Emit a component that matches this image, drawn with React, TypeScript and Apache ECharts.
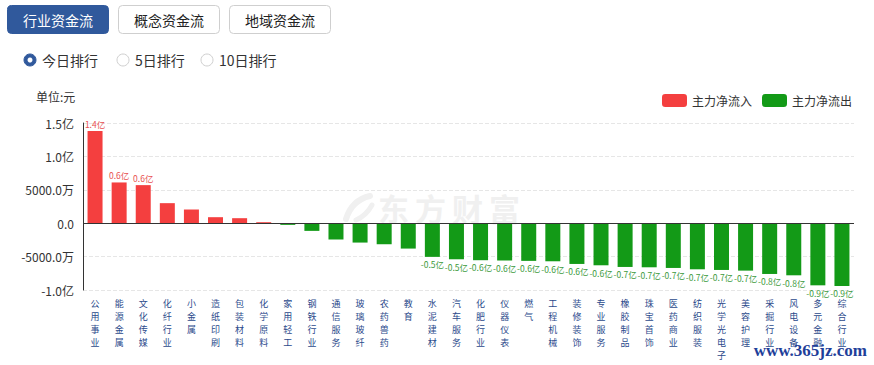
import React, { useEffect, useRef } from "react";
import * as echarts from "echarts";

const categories = [
  "公用事业", "能源金属", "文化传媒", "化纤行业", "小金属", "造纸印刷", "包装材料", "化学原料",
  "家用轻工", "钢铁行业", "通信服务", "玻璃玻纤", "农药兽药", "教育", "水泥建材", "汽车服务",
  "化肥行业", "仪器仪表", "燃气", "工程机械", "装修装饰", "专业服务", "橡胶制品", "珠宝首饰",
  "医药商业", "纺织服装", "光学光电子", "美容护理", "采掘行业", "风电设备", "多元金融", "综合行业",
];

// 主力净流入/流出, 单位: 亿元
const netFlow = [
  1.38, 0.61, 0.57, 0.30, 0.205, 0.09, 0.075, 0.015,
  -0.025, -0.115, -0.244, -0.29, -0.315, -0.38, -0.504, -0.54,
  -0.554, -0.56, -0.564, -0.57, -0.61, -0.63, -0.655, -0.66,
  -0.67, -0.69, -0.70, -0.71, -0.76, -0.78, -0.93, -0.94,
];

const tabs = ["行业资金流", "概念资金流", "地域资金流"];
const rankOptions = ["今日排行", "5日排行", "10日排行"];
const legendNames = ["主力净流入", "主力净流出"];

const FONT = "'Noto Sans CJK SC', 'Noto Sans', sans-serif";
const BLUE = "#30599c";
const RED = "#f43f3f";
const GREEN = "#139a17";

export default function App() {
  const ref = useRef<HTMLDivElement>(null);

  useEffect(() => {
    document.body.style.margin = "0";
    if (!ref.current) return;
    const chart = echarts.init(ref.current, null, { renderer: "svg" });

    const inflow = netFlow.map((v) => (v > 0 ? v : "-"));
    const outflow = netFlow.map((v) => (v < 0 ? v : "-"));

    const barLabel = (color: string, position: string) => ({
      show: true,
      position,
      distance: 3,
      fontSize: 8.5,
      fontFamily: FONT,
      color,
      formatter: (p: any) =>
        Math.abs(p.value) >= 0.45 ? (p.value as number).toFixed(1) + "亿" : "",
    });

    const tabX = [7, 118, 229];
    const radioX = [30, 123, 207];
    const graphics: any[] = [];
    tabs.forEach((t, i) => {
      const sel = i === 0;
      graphics.push({
        type: "rect",
        shape: { x: tabX[i] + 0.5, y: 5.5, width: 101, height: 28, r: 4 },
        style: { fill: sel ? BLUE : "#fff", stroke: sel ? BLUE : "#cfcfcf", lineWidth: 1 },
      });
      graphics.push({
        type: "text",
        x: tabX[i] + 51,
        y: 20,
        style: {
          text: t,
          fill: sel ? "#fff" : "#222",
          font: `14px ${FONT}`,
          align: "center",
          verticalAlign: "middle",
        },
      });
    });
    rankOptions.forEach((t, i) => {
      const sel = i === 0;
      graphics.push({
        type: "circle",
        shape: { cx: radioX[i], cy: 60, r: 6 },
        style: { fill: sel ? BLUE : "#fff", stroke: sel ? BLUE : "#d0d0d0", lineWidth: 1 },
      });
      if (sel) {
        graphics.push({
          type: "circle",
          shape: { cx: radioX[i], cy: 60, r: 2.5 },
          style: { fill: "#fff" },
        });
      }
      graphics.push({
        type: "text",
        x: radioX[i] + 12,
        y: 60,
        style: { text: t, fill: "#333", font: `14px ${FONT}`, verticalAlign: "middle" },
      });
    });
    graphics.push({
      type: "text",
      x: 36,
      y: 96,
      style: { text: "单位:元", fill: "#333", font: `12px ${FONT}`, verticalAlign: "middle" },
    });
    // watermark
    ["东", "方", "财", "富"].forEach((c, i) => {
      graphics.push({
        type: "text",
        x: 378 + i * 37,
        y: 207,
        z: -10,
        style: {
          text: c,
          fill: "#f0f0f0",
          font: `bold 31px ${FONT}`,
          verticalAlign: "middle",
        },
      });
    });
    graphics.push({
      type: "bezierCurve",
      z: -10,
      shape: { x1: 346, y1: 219, x2: 370, y2: 196, cpx1: 352, cpy1: 200 },
      style: { fill: "none", stroke: "#f0f0f0", lineWidth: 6, lineCap: "round" },
    });
    graphics.push({
      type: "bezierCurve",
      z: -10,
      shape: { x1: 356, y1: 220, x2: 372, y2: 205, cpx1: 366, cpy1: 216 },
      style: { fill: "none", stroke: "#f0f0f0", lineWidth: 5, lineCap: "round" },
    });
    graphics.push({
      type: "text",
      x: 867,
      y: 350,
      z: 100,
      style: {
        text: "www.365jz.com",
        fill: "#1f3f9a",
        font: `bold 17px 'Liberation Serif', 'DejaVu Serif', serif`,
        align: "right",
        verticalAlign: "middle",
      },
    });

    chart.setOption({
      animation: false,
      textStyle: { fontFamily: FONT },
      graphic: graphics,
      legend: {
        data: legendNames,
        right: 17,
        top: 89,
        icon: "roundRect",
        itemWidth: 25,
        itemHeight: 13,
        itemGap: 10,
        textStyle: { fontSize: 12, color: "#333", fontFamily: FONT },
      },
      grid: { left: 83, right: 20, top: 123, bottom: 75, containLabel: false },
      xAxis: {
        type: "category",
        data: categories,
        position: "bottom",
        axisLine: { show: false, onZero: false },
        axisTick: { show: false },
        axisLabel: {
          interval: 0,
          margin: 7,
          fontSize: 9,
          lineHeight: 13.1,
          color: "#2b4a8b",
          fontFamily: FONT,
          formatter: (v: string) => v.split("").join("\n"),
        },
      },
      yAxis: {
        type: "value",
        min: -1,
        max: 1.5,
        interval: 0.5,
        axisLine: { show: true, lineStyle: { color: "#333" } },
        axisTick: { show: false },
        axisLabel: {
          margin: 9,
          fontSize: 12,
          color: "#333",
          fontFamily: FONT,
          formatter: (v: number) => {
            if (Math.abs(v) < 1e-9) return "0.0";
            if (Math.abs(v) >= 1) return v.toFixed(1) + "亿";
            return (v * 10000).toFixed(1) + "万";
          },
        },
        splitLine: { show: true, lineStyle: { color: "#e6e6e6", type: "dashed" } },
      },
      series: [
        {
          name: legendNames[0],
          type: "bar",
          data: inflow,
          barWidth: 15,
          barGap: "-100%",
          itemStyle: { color: RED },
          label: barLabel("#e8504f", "top"),
          markLine: {
            silent: true,
            symbol: "none",
            label: { show: false },
            lineStyle: { color: "#333", type: "solid", width: 1 },
            data: [{ yAxis: 0 }],
          },
        },
        {
          name: legendNames[1],
          type: "bar",
          data: outflow,
          barWidth: 15,
          barGap: "-100%",
          itemStyle: { color: GREEN },
          label: barLabel("#3c9a3c", "bottom"),
        },
      ],
    });

    return () => chart.dispose();
  }, []);

  return <div ref={ref} style={{ width: 874, height: 365 }} />;
}
